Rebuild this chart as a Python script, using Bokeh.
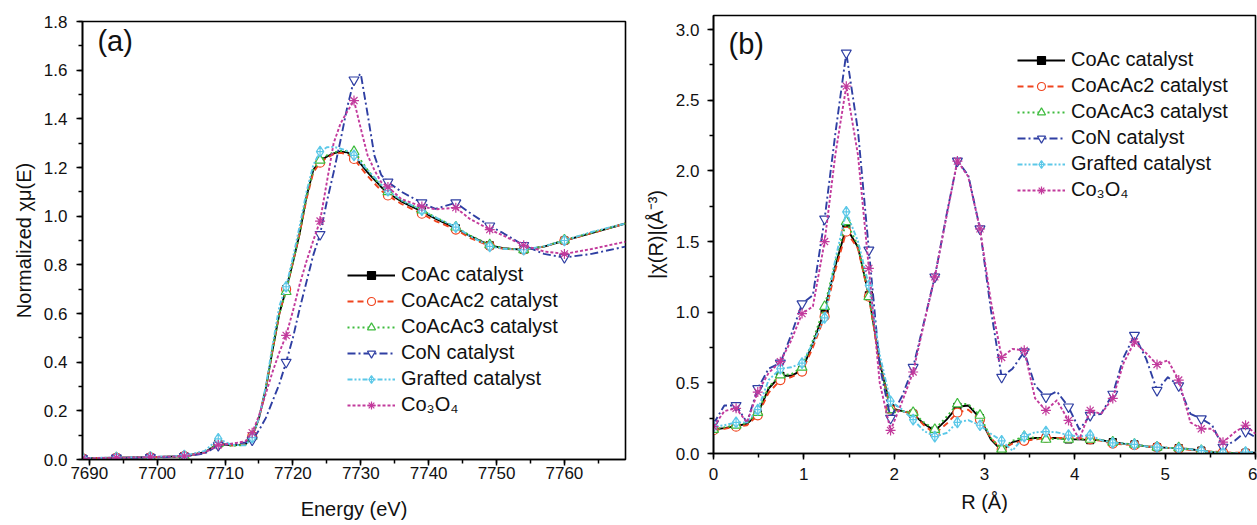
from bokeh.plotting import figure
from bokeh.layouts import row, column
from bokeh.models import (Range1d, SingleIntervalTicker, Legend, LegendItem, Label,
                          PrintfTickFormatter)
from bokeh.embed import file_html
from bokeh.resources import INLINE

# ---------------- Panel (a): XANES ----------------
energy_a = [7689, 7694, 7699, 7704, 7707, 7709, 7711, 7713, 7714, 7715, 7716, 7717, 7718, 7719,
            7720, 7721, 7722, 7723, 7724, 7725, 7726, 7727, 7728, 7729, 7730, 7731, 7732, 7733,
            7734, 7736, 7739, 7741, 7744, 7746, 7749, 7751, 7754, 7757, 7760, 7764, 7769]
marker_energy_a = [7689, 7694, 7699, 7704, 7709, 7714, 7719, 7724, 7729, 7734, 7739, 7744,
                   7749, 7754, 7760]

coac_a = [0.005, 0.007, 0.009, 0.014, 0.030, 0.065, 0.058, 0.062, 0.095, 0.17, 0.29, 0.45, 0.60,
          0.70, 0.81, 0.93, 1.08, 1.19, 1.225, 1.245, 1.258, 1.265, 1.262, 1.245, 1.215, 1.18,
          1.15, 1.12, 1.095, 1.06, 1.02, 0.99, 0.95, 0.92, 0.88, 0.868, 0.862, 0.875, 0.90,
          0.93, 0.97]
coacac2_a = [0.005, 0.007, 0.009, 0.014, 0.028, 0.063, 0.058, 0.062, 0.095, 0.17, 0.29, 0.45,
             0.60, 0.70, 0.81, 0.93, 1.07, 1.18, 1.22, 1.24, 1.255, 1.26, 1.255, 1.235, 1.20,
             1.165, 1.135, 1.105, 1.085, 1.05, 1.01, 0.98, 0.945, 0.912, 0.878, 0.866, 0.862,
             0.875, 0.90, 0.93, 0.97]
coacac3_a = [0.005, 0.007, 0.009, 0.014, 0.029, 0.066, 0.056, 0.060, 0.095, 0.17, 0.29, 0.45,
             0.60, 0.69, 0.81, 0.93, 1.08, 1.19, 1.23, 1.25, 1.262, 1.268, 1.268, 1.265, 1.23,
             1.19, 1.155, 1.125, 1.10, 1.065, 1.025, 0.995, 0.955, 0.922, 0.882, 0.868, 0.862,
             0.876, 0.902, 0.932, 0.97]
con_a = [0.004, 0.006, 0.008, 0.012, 0.025, 0.058, 0.065, 0.07, 0.08, 0.12, 0.17, 0.24, 0.31,
         0.40, 0.50, 0.62, 0.73, 0.84, 0.925, 1.06, 1.18, 1.31, 1.447, 1.56, 1.585, 1.42, 1.25,
         1.17, 1.14, 1.10, 1.055, 1.03, 1.055, 1.015, 0.96, 0.93, 0.88, 0.845, 0.83, 0.845,
         0.875]
grafted_a = [0.006, 0.008, 0.010, 0.016, 0.035, 0.085, 0.060, 0.058, 0.090, 0.17, 0.30, 0.47,
             0.63, 0.71, 0.83, 0.96, 1.10, 1.21, 1.265, 1.283, 1.285, 1.278, 1.268, 1.25, 1.22,
             1.19, 1.16, 1.13, 1.105, 1.065, 1.025, 0.995, 0.955, 0.92, 0.876, 0.866, 0.862,
             0.876, 0.90, 0.935, 0.97]
co3o4_a = [0.005, 0.007, 0.010, 0.014, 0.028, 0.060, 0.065, 0.075, 0.11, 0.18, 0.27, 0.36, 0.44,
           0.51, 0.61, 0.72, 0.815, 0.90, 0.98, 1.14, 1.30, 1.38, 1.43, 1.475, 1.36, 1.25, 1.19,
           1.14, 1.12, 1.07, 1.04, 1.028, 1.035, 0.99, 0.945, 0.92, 0.88, 0.855, 0.845, 0.865,
           0.895]

# ---------------- Panel (b): FT-EXAFS ----------------
r_b = [0.00, 0.12, 0.25, 0.37, 0.49, 0.61, 0.74, 0.86, 0.98, 1.10, 1.23, 1.35, 1.47, 1.60, 1.72,
       1.84, 1.96, 2.09, 2.21, 2.33, 2.45, 2.58, 2.70, 2.82, 2.95, 3.07, 3.19, 3.31, 3.44, 3.56,
       3.68, 3.80, 3.93, 4.05, 4.17, 4.29, 4.42, 4.54, 4.66, 4.79, 4.91, 5.03, 5.15, 5.28, 5.40,
       5.52, 5.64, 5.77, 5.89, 6.00]

coac_b = [0.17, 0.18, 0.195, 0.21, 0.28, 0.46, 0.55, 0.55, 0.59, 0.78, 1.01, 1.33, 1.60, 1.46,
          1.12, 0.65, 0.32, 0.30, 0.28, 0.21, 0.16, 0.24, 0.33, 0.34, 0.25, 0.10, 0.02, 0.08,
          0.10, 0.11, 0.11, 0.11, 0.10, 0.10, 0.095, 0.095, 0.08, 0.07, 0.064, 0.05, 0.045,
          0.04, 0.038, 0.03, 0.02, 0.01, 0.0, 0.0, 0.005, 0.005]
coacac2_b = [0.165, 0.175, 0.19, 0.20, 0.27, 0.43, 0.52, 0.54, 0.58, 0.75, 0.97, 1.30, 1.57,
             1.45, 1.11, 0.64, 0.31, 0.30, 0.28, 0.20, 0.14, 0.21, 0.29, 0.31, 0.24, 0.11, 0.03,
             0.07, 0.09, 0.10, 0.11, 0.11, 0.11, 0.11, 0.10, 0.09, 0.07, 0.065, 0.06, 0.05,
             0.045, 0.04, 0.035, 0.025, 0.015, 0.015, 0.01, 0.005, 0.005, 0.005]
coacac3_b = [0.17, 0.185, 0.20, 0.215, 0.29, 0.47, 0.556, 0.56, 0.61, 0.80, 1.04, 1.36, 1.64,
             1.47, 1.11, 0.64, 0.31, 0.30, 0.29, 0.22, 0.17, 0.26, 0.35, 0.35, 0.27, 0.11, 0.03,
             0.09, 0.12, 0.11, 0.10, 0.105, 0.10, 0.10, 0.10, 0.095, 0.08, 0.07, 0.065, 0.05,
             0.045, 0.04, 0.04, 0.03, 0.02, 0.012, 0.005, 0.003, 0.005, 0.005]
con_b = [0.21, 0.34, 0.34, 0.22, 0.46, 0.60, 0.64, 0.84, 1.06, 1.12, 1.66, 2.27, 2.835, 2.28,
         1.44, 0.62, 0.25, 0.41, 0.61, 0.93, 1.25, 1.69, 2.07, 1.97, 1.59, 1.02, 0.54, 0.60,
         0.72, 0.48, 0.40, 0.44, 0.33, 0.17, 0.27, 0.28, 0.42, 0.68, 0.837, 0.67, 0.447, 0.54,
         0.48, 0.28, 0.246, 0.20, 0.045, 0.09, 0.156, 0.115]
grafted_b = [0.19, 0.20, 0.22, 0.22, 0.31, 0.52, 0.60, 0.61, 0.64, 0.78, 0.96, 1.38, 1.71, 1.50,
             1.19, 0.70, 0.37, 0.31, 0.24, 0.16, 0.12, 0.145, 0.22, 0.236, 0.20, 0.14, 0.09,
             0.02, 0.12, 0.15, 0.155, 0.15, 0.13, 0.12, 0.13, 0.095, 0.075, 0.07, 0.064, 0.05,
             0.045, 0.04, 0.035, 0.03, 0.02, 0.01, 0.005, 0.0, 0.01, 0.01]
co3o4_b = [0.19, 0.30, 0.32, 0.22, 0.435, 0.57, 0.65, 0.80, 0.99, 1.04, 1.50, 2.12, 2.60, 2.11,
           1.31, 0.50, 0.163, 0.37, 0.577, 0.92, 1.25, 1.68, 2.07, 1.96, 1.59, 1.08, 0.68, 0.74,
           0.73, 0.39, 0.305, 0.376, 0.234, 0.10, 0.305, 0.28, 0.39, 0.64, 0.79, 0.71, 0.63,
           0.66, 0.52, 0.22, 0.175, 0.175, 0.08, 0.15, 0.20, 0.14]

series_names = ["CoAc catalyst", "CoAcAc2 catalyst", "CoAcAc3 catalyst", "CoN catalyst",
                "Grafted catalyst", "Co\u2083O\u2084"]

FONT = "Liberation Sans"
styles = [
    dict(color="#000000", dash="solid", marker="square", fill="#000000", size=7),
    dict(color="#F0441E", dash="6 4", marker="circle", fill="white", size=9),
    dict(color="#3DBB3D", dash="2 3", marker="triangle", fill="white", size=10),
    dict(color="#2F3FA3", dash="8 3 2 3", marker="inverted_triangle", fill="white", size=10),
    dict(color="#5CC8E8", dash="5 2 2 2 2 2", marker="diamond_cross", fill="white", size=11),
    dict(color="#C23A9C", dash="3 2", marker="asterisk", fill="white", size=10),
]


def make_fig(width, height, xr, yr, borders):
    p = figure(width=width, height=height, x_range=Range1d(*xr), y_range=Range1d(*yr),
               output_backend="svg", toolbar_location=None,
               min_border_left=borders[0], min_border_right=borders[1],
               min_border_top=borders[2], min_border_bottom=borders[3])
    p.grid.visible = False
    p.outline_line_color = "black"
    p.outline_line_width = 1.6
    p.background_fill_color = "white"
    for ax in (p.xaxis[0], p.yaxis[0]):
        ax.axis_line_width = 1.6
        ax.major_tick_line_width = 1.5
        ax.minor_tick_line_width = 1.5
        ax.major_tick_in = 0
        ax.minor_tick_in = 0
        ax.major_tick_out = 6
        ax.minor_tick_out = 4
        ax.major_label_text_font = FONT
        ax.major_label_text_font_size = "17px"
        ax.major_label_text_color = "#111111"
        ax.axis_label_text_font = FONT
        ax.axis_label_text_font_size = "20px"
        ax.axis_label_text_font_style = "normal"
        ax.axis_label_text_color = "#111111"
    return p


def add_series(p, xs, ys_list, marker_idx, legend_loc):
    items = []
    for name, ys, st in zip(series_names, ys_list, styles):
        rl = p.line(xs, ys, line_color=st["color"], line_width=1.9, line_dash=st["dash"],
                    line_join="round")
        mx = [xs[i] for i in marker_idx]
        my = [ys[i] for i in marker_idx]
        rs = p.scatter(mx, my, marker=st["marker"], size=st["size"], line_color=st["color"],
                       fill_color=st["fill"], line_width=1.2)
        items.append(LegendItem(label=name, renderers=[rl, rs]))
    leg = Legend(items=items, location=legend_loc, glyph_width=48, glyph_height=20,
                 label_height=20, label_standoff=6, spacing=3, padding=0, margin=0,
                 border_line_alpha=0, background_fill_alpha=0,
                 label_text_font=FONT, label_text_font_size="20px",
                 label_text_color="#111111")
    p.add_layout(leg)


# ---- figure (a): frame x 82..625, y 21..459
pa = make_fig(640, 524, (7689, 7769), (0, 1.8), (82, 15, 21, 65))
pa.xaxis.ticker = SingleIntervalTicker(interval=10, num_minor_ticks=2)
pa.yaxis.ticker = SingleIntervalTicker(interval=0.2, num_minor_ticks=2)
pa.yaxis.formatter = PrintfTickFormatter(format="%.1f")
pa.xaxis.major_label_standoff = 1
pa.yaxis.major_label_standoff = 9
pa.xaxis.axis_label = "Energy (eV)"
pa.yaxis.axis_label = "Normalized \u03c7\u03bc(E)"
pa.xaxis.axis_label_standoff = 16
pa.yaxis.axis_label_standoff = 6
idx_a = [energy_a.index(e) for e in marker_energy_a]
add_series(pa, energy_a, [coac_a, coacac2_a, coacac3_a, con_a, grafted_a, co3o4_a], idx_a,
           (265, 43))
pa.add_layout(Label(x=7691.2, y=1.785, text="(a)", text_font=FONT, text_font_size="29px",
                    text_baseline="top", text_color="#111111"))

# ---- figure (b): frame x 713..1255, y 15..453
pb = make_fig(617, 524, (0, 6), (0, 3.1), (73, 2, 15, 71))
pb.xaxis.ticker = SingleIntervalTicker(interval=1, num_minor_ticks=2)
pb.yaxis.ticker = SingleIntervalTicker(interval=0.5, num_minor_ticks=2)
pb.yaxis.formatter = PrintfTickFormatter(format="%.1f")
pb.xaxis.major_label_standoff = 8
pb.yaxis.major_label_standoff = 8
pb.xaxis.axis_label = "R (\u00c5)"
pb.yaxis.axis_label = "|\u03c7(R)|(\u00c5\u207b\u00b3)"
pb.xaxis.axis_label_standoff = 8
pb.yaxis.axis_label_standoff = 6
idx_b = list(range(0, len(r_b) - 1, 2))
add_series(pb, r_b, [coac_b, coacac2_b, coacac3_b, con_b, grafted_b, co3o4_b], idx_b,
           (304, 252))
pb.add_layout(Label(x=0.166, y=3.01, text="(b)", text_font=FONT, text_font_size="29px",
                    text_baseline="top", text_color="#111111"))

# wrap each panel separately so their frames are laid out independently
layout = row(column(pa), column(pb), spacing=0)
open("out.html", "w").write(file_html(layout, INLINE))
